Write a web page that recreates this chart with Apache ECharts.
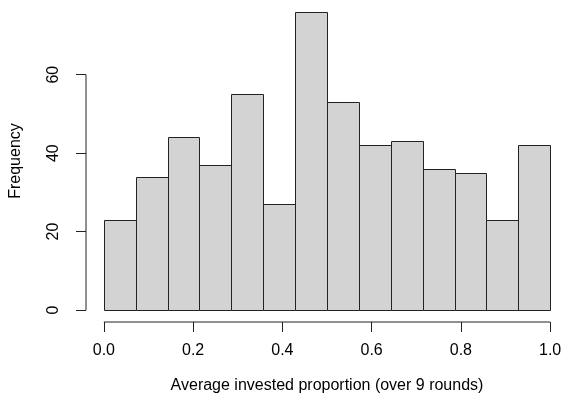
<!DOCTYPE html>
<html>
<head>
<meta charset="utf-8">
<script src="https://cdn.jsdelivr.net/npm/echarts@6/dist/echarts.min.js"></script>
<style>html,body{margin:0;padding:0;background:#fff;}#c{width:568px;height:403px;}</style>
</head>
<body>
<div id="c"></div>
<script>
// Histogram bin edges and counts
var breaks = [0, 1/14, 2/14, 3/14, 4/14, 5/14, 6/14, 7/14, 8/14, 9/14, 10/14, 11/14, 12/14, 13/14, 1];
var counts = [23, 34, 44, 37, 55, 27, 76, 53, 42, 43, 36, 35, 23, 42];
var xTicks = [0, 0.2, 0.4, 0.6, 0.8, 1.0];
var yTicks = [0, 20, 40, 60];
var xTitle = 'Average invested proportion (over 9 rounds)';
var yTitle = 'Frequency';

var FONT = 'Liberation Sans, Arial, Helvetica, sans-serif';
var FS = 16;
var span = breaks[breaks.length - 1] - breaks[0];
var xMin = breaks[0] - 0.04 * span;
var xMax = breaks[breaks.length - 1] + 0.04 * span;
var yTop = Math.max.apply(null, counts);
var yMin = -0.04 * yTop;
var yMax = yTop * 1.04;

var bins = counts.map(function (c, i) { return [breaks[i], breaks[i + 1], c]; });

var chart = echarts.init(document.getElementById('c'), null, {renderer: 'canvas'});
chart.setOption({
  animation: false,
  backgroundColor: '#ffffff',
  grid: {left: 86, top: -2.2, width: 487.8, height: 324.2, containLabel: false},
  xAxis: {
    type: 'value', min: xMin, max: xMax,
    axisLine: {show: false, onZero: false},
    splitLine: {show: false},
    axisTick: {show: true, length: 10, customValues: xTicks, lineStyle: {color: '#222', width: 1}},
    axisLabel: {customValues: xTicks, formatter: function (v) { return v.toFixed(1); },
      margin: 21, fontSize: FS, color: '#000', fontFamily: FONT},
    name: xTitle, nameLocation: 'middle', nameGap: 56,
    nameTextStyle: {fontSize: FS, color: '#000', fontFamily: FONT}
  },
  yAxis: {
    type: 'value', min: yMin, max: yMax,
    axisLine: {show: false, onZero: false},
    splitLine: {show: false},
    axisTick: {show: true, length: 10, customValues: yTicks, lineStyle: {color: '#222', width: 1}},
    axisLabel: {customValues: yTicks, rotate: 90, margin: 24, fontSize: FS, color: '#000', fontFamily: FONT},
    name: yTitle, nameLocation: 'middle', nameGap: 62,
    nameTextStyle: {fontSize: FS, color: '#000', fontFamily: FONT}
  },
  series: [
    {
      type: 'custom',
      data: bins,
      clip: false,
      renderItem: function (params, api) {
        var p0 = api.coord([api.value(0), 0]);
        var p1 = api.coord([api.value(1), api.value(2)]);
        return {
          type: 'rect',
          shape: {x: Math.round(p0[0]) + 0.5, y: Math.round(p1[1]) + 0.5,
                  width: Math.round(p1[0]) - Math.round(p0[0]), height: Math.round(p0[1]) - Math.round(p1[1])},
          style: {fill: '#D3D3D3', stroke: '#222', lineWidth: 1}
        };
      }
    },
    {
      type: 'line', silent: true, symbol: 'none', clip: false,
      data: [[xTicks[0], yMin], [xTicks[xTicks.length - 1], yMin]],
      lineStyle: {color: '#222', width: 1}
    },
    {
      type: 'line', silent: true, symbol: 'none', clip: false,
      data: [[xMin, yTicks[0]], [xMin, yTicks[yTicks.length - 1]]],
      lineStyle: {color: '#222', width: 1}
    }
  ]
});
</script>
</body>
</html>
